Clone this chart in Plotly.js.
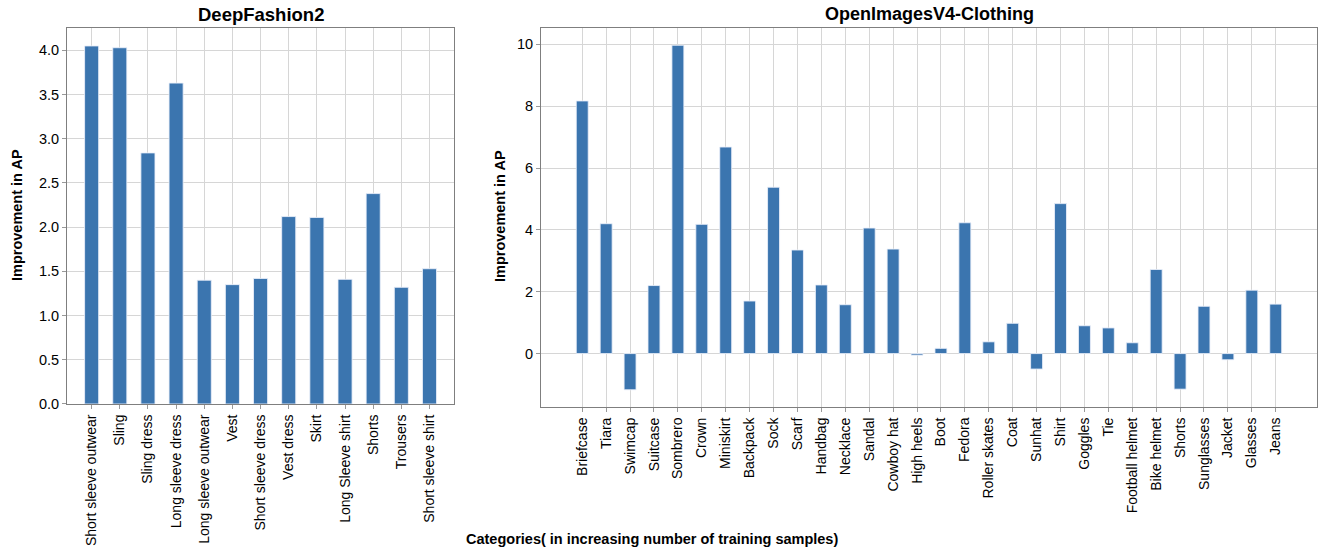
<!DOCTYPE html>
<html>
<head>
<meta charset="utf-8">
<script src="https://cdn.plot.ly/plotly-3.0.1.min.js"></script>
<style>html,body{margin:0;padding:0;background:#fff}#chart{width:1324px;height:550px}</style>
</head>
<body>
<div id="chart"></div>
<script>
const dfCategories = ["Short sleeve outwear","Sling","Sling dress","Long sleeve dress","Long sleeve outwear","Vest","Short sleeve dress","Vest dress","Skirt","Long Sleeve shirt","Shorts","Trousers","Short sleeve shirt"];
const dfValues = [4.05, 4.03, 2.84, 3.63, 1.40, 1.35, 1.42, 2.12, 2.11, 1.41, 2.38, 1.32, 1.53];

const oiCategories = ["Briefcase","Tiara","Swimcap","Suitcase","Sombrero","Crown","Miniskirt","Backpack","Sock","Scarf","Handbag","Necklace","Sandal","Cowboy hat","High heels","Boot","Fedora","Roller skates","Coat","Sunhat","Shirt","Goggles","Tie","Football helmet","Bike helmet","Shorts","Sunglasses","Jacket","Glasses","Jeans"];
const oiValues = [8.17, 4.20, -1.17, 2.20, 9.97, 4.18, 6.68, 1.70, 5.38, 3.35, 2.22, 1.58, 4.06, 3.38, -0.05, 0.17, 4.23, 0.38, 0.98, -0.50, 4.85, 0.90, 0.83, 0.35, 2.72, -1.15, 1.53, -0.20, 2.05, 1.60];

const dfTicks = [0.0,0.5,1.0,1.5,2.0,2.5,3.0,3.5,4.0];
const oiTicks = [0,2,4,6,8,10];

const FONT = "Liberation Sans, Arial, Helvetica, sans-serif";
const barColor = "#3b75af";
const gridColor = "#d6d6d6";

const barStyle = {color: barColor, line: {color: "rgba(235,240,250,0.85)", width: 1}};

const traces = [
  {type: "bar", x: dfCategories, y: dfValues, width: 0.5, marker: barStyle, xaxis: "x", yaxis: "y", hoverinfo: "x+y"},
  {type: "bar", x: oiCategories, y: oiValues, width: 0.5, marker: barStyle, xaxis: "x2", yaxis: "y2", hoverinfo: "x+y"}
];

function xAxis(domain, anchor, range) {
  return {
    domain: domain, anchor: anchor, type: "category", range: range,
    tickangle: -90, showgrid: true, gridcolor: gridColor, gridwidth: 1,
    ticks: "outside", ticklen: 4, tickcolor: "#999", tickwidth: 1,
    showline: true, linecolor: "#7f7f7f", linewidth: 1, mirror: true,
    tickfont: {family: FONT, size: 14, color: "#000"}, zeroline: false, automargin: false
  };
}
function yAxis(domain, anchor, range, ticks, fmt) {
  return {
    domain: domain, anchor: anchor, range: range, tickvals: ticks,
    ticktext: ticks.map(v => fmt(v)),
    showgrid: true, gridcolor: gridColor, gridwidth: 1,
    ticks: "outside", ticklen: 4, tickcolor: "#999", tickwidth: 1,
    showline: true, linecolor: "#7f7f7f", linewidth: 1, mirror: true,
    tickfont: {family: FONT, size: 14.5, color: "#000"}, zeroline: false, automargin: false
  };
}

const layout = {
  width: 1324, height: 550,
  margin: {l: 0, r: 0, t: 0, b: 0},
  paper_bgcolor: "#fff", plot_bgcolor: "#fff",
  showlegend: false,
  bargap: 0,
  xaxis: xAxis([0.0506, 0.343], "y", [-0.875, 12.875]),
  yaxis: yAxis([0.2655, 0.949], "x", [0, 4.2525], dfTicks, v => v.toFixed(1)),
  xaxis2: xAxis([0.4086, 0.9947], "y2", [-1.725, 30.725]),
  yaxis2: yAxis([0.26, 0.949], "x2", [-1.727, 10.527], oiTicks, v => String(v)),
  annotations: [
    {text: "<b>DeepFashion2</b>", xref: "paper", yref: "paper", x: 0.1968, y: 1 - 14/550, xanchor: "center", yanchor: "middle", showarrow: false, font: {family: FONT, size: 18.5, color: "#000"}},
    {text: "<b>OpenImagesV4-Clothing</b>", xref: "paper", yref: "paper", x: 0.7017, y: 1 - 14/550, xanchor: "center", yanchor: "middle", showarrow: false, font: {family: FONT, size: 18, color: "#000"}},
    {text: "<b>Improvement in AP</b>", xref: "paper", yref: "paper", x: 17/1324, y: 1 - 215/550, xanchor: "center", yanchor: "middle", textangle: -90, showarrow: false, font: {family: FONT, size: 14.5, color: "#000"}},
    {text: "<b>Improvement in AP</b>", xref: "paper", yref: "paper", x: 500/1324, y: 1 - 216/550, xanchor: "center", yanchor: "middle", textangle: -90, showarrow: false, font: {family: FONT, size: 14.5, color: "#000"}},
    {text: "<b>Categories( in increasing number of training samples)</b>", xref: "paper", yref: "paper", x: 652/1324, y: 1 - 539/550, xanchor: "center", yanchor: "middle", showarrow: false, font: {family: FONT, size: 14.5, color: "#000"}}
  ]
};

Plotly.newPlot("chart", traces, layout, {displayModeBar: false, staticPlot: true});
</script>
</body>
</html>
